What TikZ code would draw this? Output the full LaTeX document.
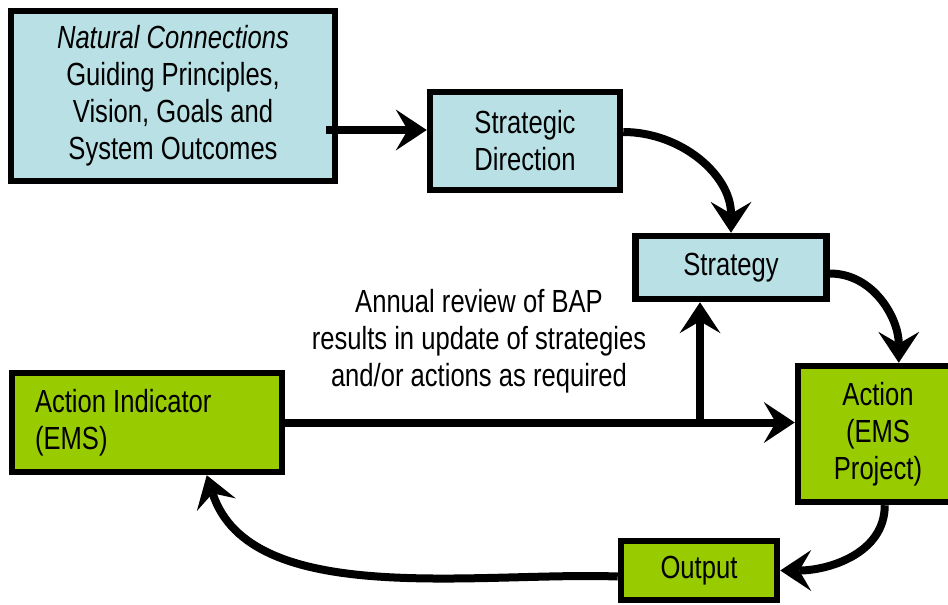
\documentclass[tikz,border=0pt]{standalone}
\usepackage{fontspec}
\setmainfont{Liberation Sans}[FakeStretch=0.8]
\usetikzlibrary{arrows.meta}
\definecolor{paleblue}{RGB}{185,224,228}
\definecolor{leafgreen}{RGB}{153,204,0}

\begin{document}
\begin{tikzpicture}[x=1pt,y=-1pt,font=\fontsize{32pt}{37pt}\selectfont]
  \tikzset{plan box/.style={draw,line width=6.5pt,fill=paleblue,align=center,inner ysep=3pt}}
  \tikzset{act box/.style={draw,line width=6.5pt,fill=leafgreen,align=center,inner ysep=3pt}}
  \tikzset{flow/.style={line width=8pt,-{Stealth[length=31pt,width=41pt,inset=12pt,line width=0pt]}}}

  \useasboundingbox (0,0) rectangle (948,605);

  \node [plan box,minimum width=324pt,minimum height=170pt] (NC) at (173,96)
        {\textit{Natural Connections}\\Guiding Principles,\\Vision, Goals and\\System Outcomes};
  \node [plan box,minimum width=190pt,minimum height=98pt] (SD) at (525,141) {Strategic\\Direction};
  \node [plan box,minimum width=191pt,minimum height=63pt] (S) at (731,267.5) {Strategy};
  \node [act box,minimum width=270pt,minimum height=99pt,text width=224pt,align=flush left] (AI) at (147,422.5)
        {Action Indicator\\(EMS)};
  \node [act box,minimum width=160pt,minimum height=136pt] (A) at (878,434) {Action\\(EMS\\Project)};
  \node [act box,minimum width=156pt,minimum height=59pt] (O) at (699,570.5) {Output};
  \node [align=center] (R) at (479,341)
        {Annual review of BAP\\results in update of strategies\\and/or actions as required};

  \draw[flow] ([xshift=-12pt,yshift=-34pt]NC.east) -- ([yshift=11pt]SD.west);
  \draw[flow] ([yshift=9pt]SD.east) to[out=0,in=90] (S.north);
  \draw[flow] ([yshift=-6pt]S.east) to[out=0,in=90] ([xshift=104pt]A.north west);
  \draw[flow] (AI.east) -- (AI.east -| A.west);
  \coordinate (up) at (700,422.5);
  \draw[flow] (up) -- (up |- S.south);
  \draw[flow] ([xshift=90pt]A.south west) to[out=-90,in=0] (O.east);
  \draw[flow] ([yshift=-6pt]O.west) to[out=178,in=-72,looseness=0.85] ([xshift=198pt]AI.south west);
\end{tikzpicture}
\end{document}
